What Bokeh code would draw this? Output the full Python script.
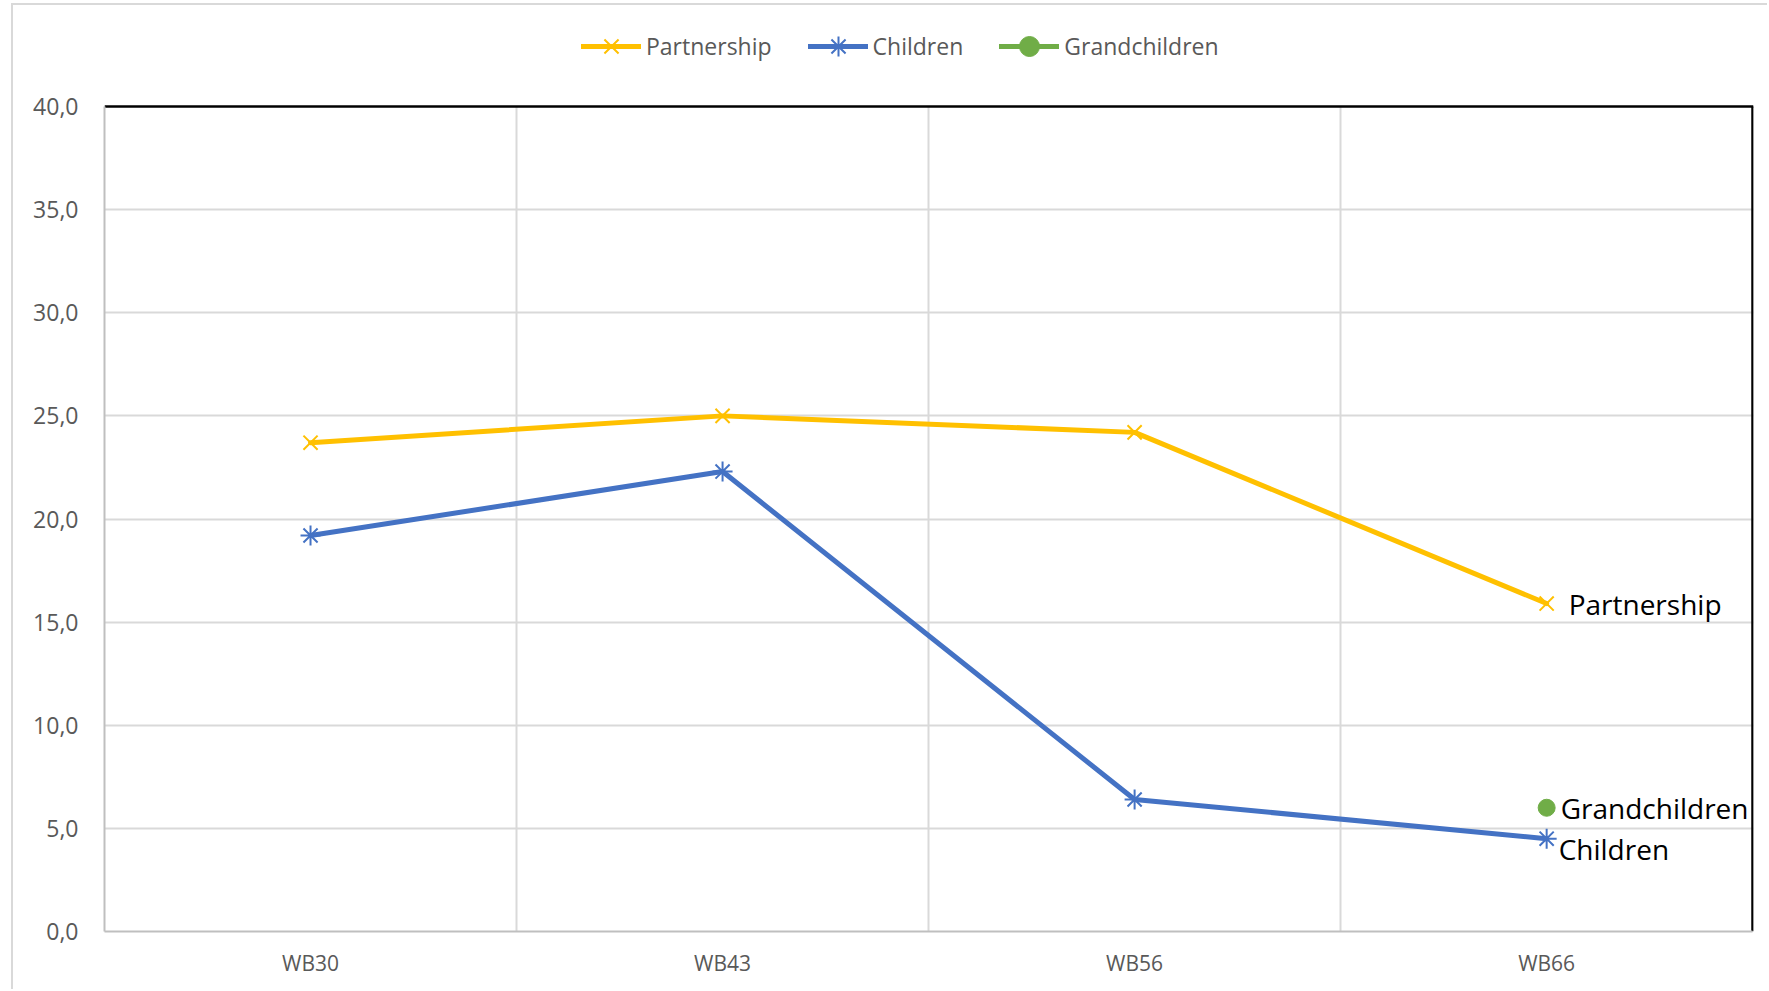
from bokeh.plotting import figure
from bokeh.models import (ColumnDataSource, Legend, LegendItem, FixedTicker,
                          Grid, LabelSet)
from bokeh.core.properties import value
from bokeh.embed import file_html
from bokeh.resources import INLINE

# --- data -----------------------------------------------------------------
waves = ["WB30", "WB43", "WB56", "WB66"]
partnership = [23.7, 25.0, 24.2, 15.9]
children = [19.2, 22.3, 6.4, 4.5]
grandchildren_waves = ["WB66"]
grandchildren = [6.0]
y_ticks = [0, 5, 10, 15, 20, 25, 30, 35, 40]
y_tick_labels = ["0,0", "5,0", "10,0", "15,0", "20,0", "25,0", "30,0", "35,0", "40,0"]

YELLOW = "#FFC000"
BLUE = "#4472C4"
GREEN = "#70AD47"
GRID = "#D9D9D9"
TEXT = "#595959"
FONT = "Open Sans"

Y_MAX = 40
# the frame reaches up to the canvas top so the legend can sit above the plot box;
# the value axis keeps 0..40 on the lower 825 of its 926 pixels
FRAME_H, BOX_H = 926, 825
y_top = Y_MAX * FRAME_H / BOX_H

# categories sit at the middle of unit-wide slots
pos = {w: i + 0.5 for i, w in enumerate(waves)}
xs = [pos[w] for w in waves]
gx = [pos[w] for w in grandchildren_waves]
n = len(waves)

# a hair of extra room on the right keeps the closing box edge inside the range
p = figure(width=1756, height=986, x_range=(0, n + 0.002), y_range=(0, y_top),
           output_backend="svg", toolbar_location=None,
           min_border_left=91, min_border_right=16, min_border_top=0,
           min_border_bottom=60, margin=(3, 0, 0, 11),
           styles={"border-top": "2px solid #D9D9D9",
                   "border-left": "2px solid #D9D9D9"})
p.outline_line_color = None
p.background_fill_color = "white"
p.border_fill_color = "white"

# grids: horizontal at y ticks, vertical at category boundaries
p.xgrid.visible = False
p.ygrid.ticker = FixedTicker(ticks=y_ticks[:-1])
p.ygrid.grid_line_color = GRID
p.ygrid.grid_line_width = 2
p.ygrid.bounds = (0, n)
p.add_layout(Grid(dimension=0, ticker=FixedTicker(ticks=list(range(1, n))),
                  cross_bounds=(0, Y_MAX), grid_line_color=GRID, grid_line_width=2))
# black box edges at the top and right
p.add_layout(Grid(dimension=1, ticker=FixedTicker(ticks=[Y_MAX]), bounds=(0, n),
                  grid_line_color="black", grid_line_width=2.5))
p.add_layout(Grid(dimension=0, ticker=FixedTicker(ticks=[n]), cross_bounds=(0, Y_MAX),
                  grid_line_color="black", grid_line_width=2.5))

# axes
p.xaxis.ticker = FixedTicker(ticks=xs)
p.xaxis.major_label_overrides = {x: w for x, w in zip(xs, waves)}
p.xaxis.bounds = (0, n)
p.yaxis.ticker = FixedTicker(ticks=y_ticks)
p.yaxis.major_label_overrides = {t: l for t, l in zip(y_ticks, y_tick_labels)}
p.yaxis.bounds = (0, Y_MAX)
for ax in (p.xaxis, p.yaxis):
    ax.axis_line_color = "#BFBFBF"
    ax.axis_line_width = 2
    ax.major_tick_line_color = None
    ax.minor_tick_line_color = None
    ax.major_label_text_color = TEXT
    ax.major_label_text_font = FONT
p.yaxis.major_label_text_font_size = "23px"
p.yaxis.major_label_standoff = 20
p.xaxis.major_label_text_font_size = "21px"
p.xaxis.major_label_standoff = 11

# series
src_p = ColumnDataSource(dict(x=xs, y=partnership))
src_c = ColumnDataSource(dict(x=xs, y=children))
src_g = ColumnDataSource(dict(x=gx, y=grandchildren))

line_kw = dict(line_width=5, line_join="round", line_cap="round")
lp = p.line("x", "y", source=src_p, line_color=YELLOW, **line_kw)
mp = p.scatter("x", "y", source=src_p, marker="x", size=20, line_color=YELLOW, line_width=2)
lc = p.line("x", "y", source=src_c, line_color=BLUE, **line_kw)
mc = p.scatter("x", "y", source=src_c, marker="asterisk", size=20, line_color=BLUE, line_width=2)
lg = p.line("x", "y", source=src_g, line_color=GREEN, **line_kw)
mg = p.scatter("x", "y", source=src_g, marker="circle", size=17, fill_color=GREEN, line_color=GREEN)

# end-of-line series names
end_p = ColumnDataSource(dict(x=[xs[-1]], y=[partnership[-1]], t=["Partnership"]))
end_g = ColumnDataSource(dict(x=[gx[-1]], y=[grandchildren[-1]], t=["Grandchildren"]))
end_c = ColumnDataSource(dict(x=[xs[-1]], y=[children[-1]], t=["Children"]))
for src, dx, dy in ((end_p, 22, 0), (end_g, 14, 0), (end_c, 12, -10)):
    p.add_layout(LabelSet(x="x", y="y", text="t", source=src, x_offset=dx, y_offset=dy,
                          text_font=value(FONT), text_font_size=value("28px"),
                          text_color="black", text_baseline="middle", text_align="left"))

legend = Legend(items=[LegendItem(label="Partnership", renderers=[lp, mp]),
                       LegendItem(label="Children", renderers=[lc, mc]),
                       LegendItem(label="Grandchildren", renderers=[lg, mg])],
                orientation="horizontal", location=(477, 860),
                label_text_font=FONT, label_text_font_size="23px",
                label_text_color=TEXT, glyph_width=60, glyph_height=50,
                label_standoff=5, spacing=36, padding=0, margin=0,
                border_line_color=None, background_fill_alpha=0)
p.add_layout(legend, "center")

open("out.html", "w").write(file_html(p, INLINE))
